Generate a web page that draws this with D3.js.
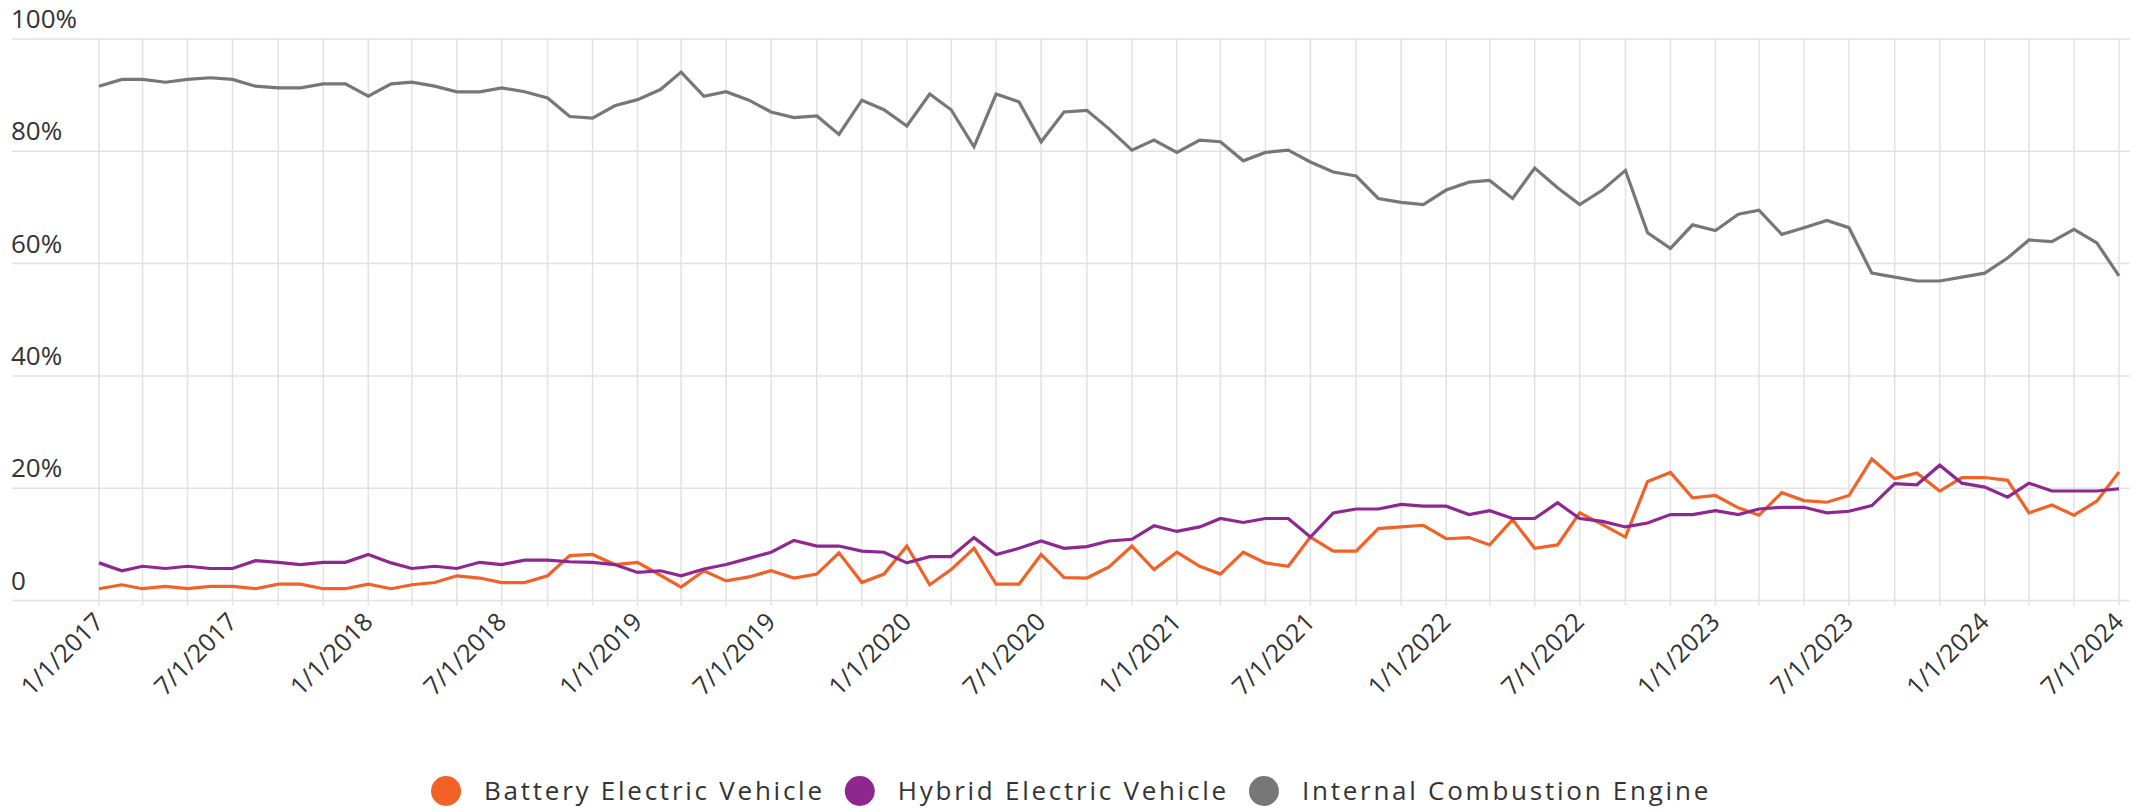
<!DOCTYPE html>
<html>
<head>
<meta charset="utf-8">
<script src="https://cdn.jsdelivr.net/npm/d3@7"></script>
<style>
  body { margin: 0; background: #fff; }
  text { font-family: "Open Sans", sans-serif; fill: #333; }
</style>
</head>
<body>
<svg></svg>
<script>
var width = 2136;
var height = 812;

var seriesNames = ['Battery Electric Vehicle', 'Hybrid Electric Vehicle', 'Internal Combustion Engine'];
var seriesColors = ['#f26125', '#8e2790', '#777777'];

var startMonth = new Date(2017, 0, 1);
var endMonth = new Date(2024, 6, 1);

var tickLabels = ['1/1/2017', '7/1/2017', '1/1/2018', '7/1/2018', '1/1/2019', '7/1/2019',
                  '1/1/2020', '7/1/2020', '1/1/2021', '7/1/2021', '1/1/2022', '7/1/2022',
                  '1/1/2023', '7/1/2023', '1/1/2024', '7/1/2024'];
var yTicks = [0, 20, 40, 60, 80, 100];

// share of sales in %, one value per month from 1/2017 to 7/2024
var bev = [2.1, 2.8, 2.1, 2.5, 2.1, 2.5, 2.5, 2.1, 2.9, 2.9, 2.1, 2.1,
           2.9, 2.1, 2.8, 3.2, 4.4, 4.0, 3.2, 3.2, 4.4, 8.0, 8.2, 6.4,
           6.8, 4.5, 2.4, 5.3, 3.5, 4.2, 5.3, 4.0, 4.7, 8.5, 3.2, 4.7,
           9.7, 2.8, 5.5, 9.3, 2.9, 2.9, 8.2, 4.1, 4.0, 6.0, 9.7, 5.5,
           8.6, 6.1, 4.7, 8.6, 6.7, 6.1, 11.3, 8.8, 8.8, 12.8, 13.1, 13.4,
           11.0, 11.2, 9.9, 14.4, 9.3, 9.9, 15.6, 13.5, 11.3, 21.2, 22.8, 18.3,
           18.7, 16.5, 15.2, 19.2, 17.8, 17.5, 18.7, 25.2, 21.7, 22.7, 19.5, 21.9,
           21.9, 21.4, 15.6, 17.0, 15.2, 17.7, 22.9];
var hev = [6.7, 5.3, 6.1, 5.7, 6.1, 5.7, 5.7, 7.1, 6.8, 6.4, 6.8, 6.8,
           8.2, 6.7, 5.7, 6.1, 5.7, 6.8, 6.4, 7.2, 7.2, 6.9, 6.8, 6.4,
           5.0, 5.3, 4.4, 5.6, 6.4, 7.5, 8.6, 10.7, 9.7, 9.7, 8.8, 8.6,
           6.7, 7.8, 7.8, 11.2, 8.2, 9.3, 10.6, 9.3, 9.6, 10.6, 10.9, 13.3,
           12.3, 13.1, 14.6, 13.9, 14.6, 14.6, 11.3, 15.6, 16.3, 16.3, 17.1, 16.8,
           16.8, 15.3, 16.0, 14.6, 14.6, 17.4, 14.6, 14.1, 13.1, 13.8, 15.3, 15.3,
           16.0, 15.3, 16.3, 16.6, 16.6, 15.6, 15.9, 16.9, 20.8, 20.6, 24.1, 20.9,
           20.2, 18.4, 20.9, 19.5, 19.5, 19.5, 19.9];
var ice = [91.6, 92.8, 92.8, 92.3, 92.8, 93.1, 92.8, 91.6, 91.3, 91.3, 92.0, 92.0,
           89.8, 92.0, 92.3, 91.6, 90.6, 90.6, 91.3, 90.6, 89.5, 86.2, 85.9, 88.1,
           89.2, 91.0, 94.1, 89.8, 90.6, 89.1, 87.0, 86.0, 86.3, 83.0, 89.1, 87.4,
           84.5, 90.2, 87.4, 80.8, 90.2, 88.8, 81.7, 87.0, 87.3, 84.0, 80.2, 82.0,
           79.8, 82.0, 81.7, 78.3, 79.8, 80.2, 78.1, 76.3, 75.6, 71.6, 70.9, 70.5,
           73.1, 74.5, 74.8, 71.6, 77.0, 73.5, 70.5, 73.1, 76.6, 65.5, 62.7, 66.9,
           65.9, 68.8, 69.5, 65.2, 66.4, 67.7, 66.4, 58.3, 57.6, 56.9, 56.9, 57.6,
           58.3, 61.0, 64.2, 63.9, 66.1, 63.7, 57.8];

var months = d3.timeMonth.range(startMonth, d3.timeMonth.offset(endMonth, 1));
var allSeries = [bev, hev, ice];

var svg = d3.select('svg')
    .attr('width', width)
    .attr('height', height);

var x = d3.scaleTime()
          .domain([startMonth, endMonth])
          .range([99, 2119]);
var y = d3.scaleLinear()
          .domain([0, 100])
          .range([600.5, 39]);

//horizontal grid lines with the labels sitting on top of them
var yGrid = svg.append('g').classed('y-grid', true);
yGrid.selectAll('line')
  .data(yTicks)
  .enter()
  .append('line')
    .attr('x1', 12)
    .attr('x2', 2130)
    .attr('y1', d => y(d))
    .attr('y2', d => y(d))
    .attr('stroke', '#e2e2e2')
    .attr('stroke-width', 1.5);
yGrid.selectAll('text')
  .data(yTicks)
  .enter()
  .append('text')
    .attr('x', 11)
    .attr('y', d => y(d) - 11)
    .attr('font-size', 26)
    .text(d => d === 0 ? '0' : d + '%');

//vertical grid line every two months
var gridMonths = x.ticks(d3.timeMonth.every(2));
svg.append('g')
    .classed('x-grid', true)
  .selectAll('line')
  .data(gridMonths)
  .enter()
  .append('line')
    .attr('x1', d => x(d))
    .attr('x2', d => x(d))
    .attr('y1', y(100))
    .attr('y2', y(0) + 5)
    .attr('stroke', '#e2e2e2')
    .attr('stroke-width', 1.5);

//rotated date labels every six months
var labelMonths = x.ticks(d3.timeMonth.every(6));
svg.append('g')
    .classed('x-labels', true)
  .selectAll('text')
  .data(labelMonths)
  .enter()
  .append('text')
    .attr('transform', d => 'translate(' + (x(d) + 6) + ', ' + (y(0) + 23) + ') rotate(-45)')
    .attr('text-anchor', 'end')
    .attr('font-size', 25)
    .text((d, i) => tickLabels[i]);

//the three lines
var line = d3.line()
             .x((d, i) => x(months[i]))
             .y(d => y(d));
svg.append('g')
    .classed('lines', true)
  .selectAll('path')
  .data(allSeries)
  .enter()
  .append('path')
    .attr('fill', 'none')
    .attr('stroke', (d, i) => seriesColors[i])
    .attr('stroke-width', 3.2)
    .attr('stroke-linejoin', 'miter')
    .attr('d', line);

//legend, centered under the chart
var legend = svg.append('g').classed('legend', true);
var items = legend.selectAll('g')
  .data(seriesNames)
  .enter()
  .append('g');
items.append('circle')
    .attr('r', 15)
    .attr('cx', 15)
    .attr('cy', 0)
    .attr('fill', (d, i) => seriesColors[i]);
items.append('text')
    .attr('x', 53)
    .attr('y', 9)
    .attr('font-size', 26)
    .attr('letter-spacing', 2.75)
    .text(d => d);

var offset = 0;
items.each(function() {
  var w = this.getBBox().width;
  d3.select(this).attr('transform', 'translate(' + offset + ', 0)');
  offset += w + 20;
});
offset -= 20;
legend.attr('transform', 'translate(' + (1071 - offset / 2) + ', 791)');
</script>
</body>
</html>
